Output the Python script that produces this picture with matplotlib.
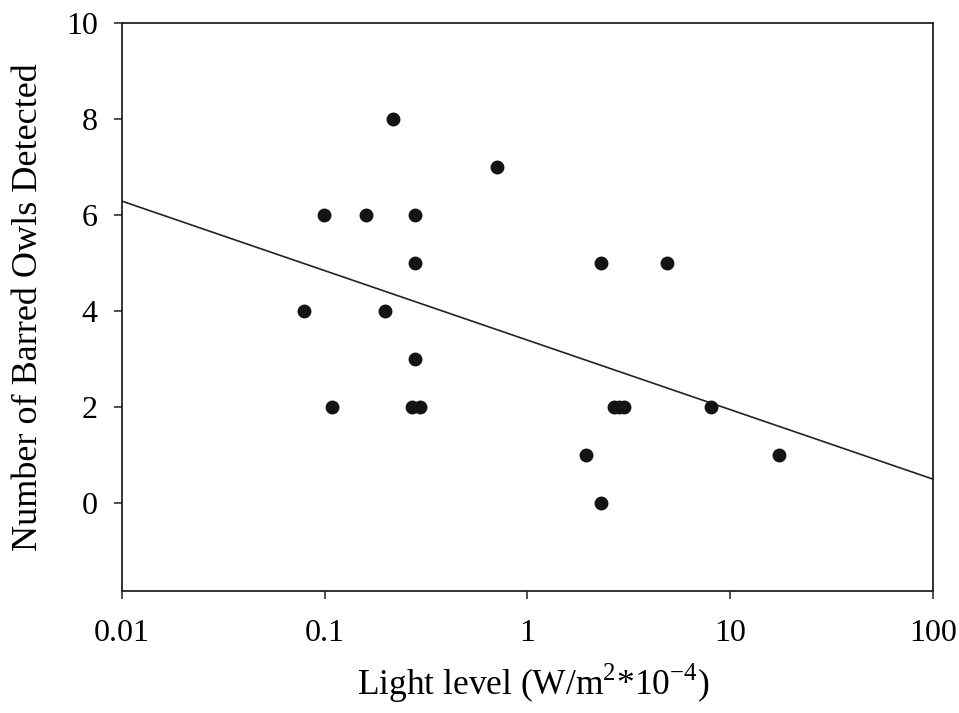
import matplotlib
matplotlib.use("Agg")
import matplotlib.pyplot as plt
from matplotlib.ticker import FixedLocator, FixedFormatter, NullLocator

# Light level vs number of barred owls detected
light = [0.079, 0.0996, 0.109, 0.160, 0.198, 0.217, 0.279, 0.279, 0.278,
         0.269, 0.295, 0.707, 1.94, 2.30, 2.30, 2.67, 2.83, 2.99, 4.87, 8.04, 17.4]
owls = [4, 6, 2, 6, 4, 8, 6, 5, 3,
        2, 2, 7, 1, 5, 0, 2, 2, 2, 5, 2, 1]

# regression line end points
fit_x = [0.01, 100]
fit_y = [6.29, 0.5]

xticks = [0.01, 0.1, 1, 10, 100]
xticklabels = ["0.01", "0.1", "1", "10", "100"]
yticks = [0, 2, 4, 6, 8, 10]

plt.rcParams['font.family'] = ['Liberation Serif', 'DejaVu Serif']

fig = plt.figure(figsize=(9.59, 7.13), dpi=100)
ax = fig.add_axes([0.1272, 0.1711, 0.8457, 0.7966])

ax.plot(fit_x, fit_y, color='#222222', lw=1.2)
ax.plot(light, owls, 'o', color='#141414', markersize=10, markeredgewidth=0)

ax.set_xscale('log')
ax.set_xlim(0.01, 100)
ax.set_ylim(-1.83, 10)
ax.xaxis.set_major_locator(FixedLocator(xticks))
ax.xaxis.set_major_formatter(FixedFormatter(xticklabels))
ax.xaxis.set_minor_locator(NullLocator())
ax.set_yticks(yticks)

ax.tick_params(direction='out', length=5.5, width=1.1, labelsize=23, color='#222222')
ax.tick_params(axis='x', pad=15)
ax.tick_params(axis='y', pad=12)
for s in ax.spines.values():
    s.set_linewidth(1.3)
    s.set_color('#222222')

ax.set_xlabel('Light level (W/m$^{\\mathregular{2}}$*10$^{\\mathregular{-4}}$)', fontsize=25.5)
ax.set_ylabel('Number of Barred Owls Detected', fontsize=26)
ax.yaxis.set_label_coords(-0.095, 0.5)
ax.xaxis.set_label_coords(0.507, -0.125)

fig.savefig('out.png', dpi=100)
